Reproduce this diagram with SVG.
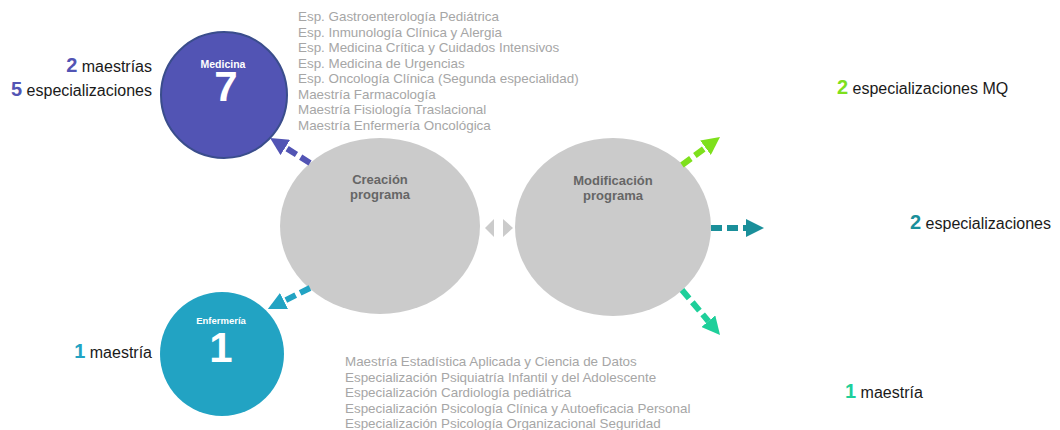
<svg xmlns="http://www.w3.org/2000/svg" width="1060" height="430" viewBox="0 0 1060 430">
<defs>
<style>
text{font-family:"Liberation Sans",Arial,sans-serif}
.lst{font-size:13.4px;fill:#a6a6a6}
.lbl{font-size:16px;fill:#1a1a1a}
.num{font-size:20px;font-weight:bold}
.ell{fill:#cbcbcb}
.etx{font-size:13px;font-weight:bold;fill:#666;text-anchor:middle}
.ctx{fill:#fff;font-weight:bold;text-anchor:middle}
.dash{fill:none;stroke-width:6;stroke-dasharray:11 5}
</style>
<marker id="mMed" viewBox="0 0 10 10" refX="0" refY="5" markerWidth="3" markerHeight="3" orient="auto" markerUnits="strokeWidth"><path d="M0,0 L10,5 L0,10 z" fill="#5254b4"/></marker>
<marker id="mEnf" viewBox="0 0 10 10" refX="0" refY="5" markerWidth="3" markerHeight="3" orient="auto" markerUnits="strokeWidth"><path d="M0,0 L10,5 L0,10 z" fill="#22a3c3"/></marker>
<marker id="mG" viewBox="0 0 10 10" refX="0" refY="5" markerWidth="3" markerHeight="3" orient="auto" markerUnits="strokeWidth"><path d="M0,0 L10,5 L0,10 z" fill="#7ee01c"/></marker>
<marker id="mT" viewBox="0 0 10 10" refX="0" refY="5" markerWidth="3" markerHeight="3" orient="auto" markerUnits="strokeWidth"><path d="M0,0 L10,5 L0,10 z" fill="#1a8f9a"/></marker>
<marker id="mS" viewBox="0 0 10 10" refX="0" refY="5" markerWidth="3" markerHeight="3" orient="auto" markerUnits="strokeWidth"><path d="M0,0 L10,5 L0,10 z" fill="#1ecf9a"/></marker>
</defs>
<rect width="1060" height="430" fill="#fff"/>

<g id="creacion">
<ellipse class="ell" cx="380" cy="226" rx="100" ry="88"/>
<text class="etx" x="380" y="184">Creación</text>
<text class="etx" x="380" y="199">programa</text>
</g>

<g id="modificacion">
<ellipse class="ell" cx="613" cy="227" rx="98" ry="89"/>
<text class="etx" x="613" y="185">Modificación</text>
<text class="etx" x="613" y="200">programa</text>
</g>

<g id="flechas-dobles">
<path d="M485,228 L494,219 L494,237 z" fill="#cbcbcb"/>
<path d="M513,228 L503,219 L503,237 z" fill="#cbcbcb"/>
</g>

<g id="connectors">
<path class="dash" d="M310,163 L285.3,147.5" stroke="#5254b4" marker-end="url(#mMed)"/>
<path class="dash" d="M310,288 L284,301" stroke="#22a3c3" marker-end="url(#mEnf)"/>
<path class="dash" d="M682,165 L705.5,147.7" stroke="#7ee01c" marker-end="url(#mG)"/>
<path class="dash" d="M711,228 L746,228" stroke="#1a8f9a" marker-end="url(#mT)"/>
<path class="dash" d="M682,290 L708.4,321.2" stroke="#1ecf9a" marker-end="url(#mS)"/>
</g>

<g id="medicina">
<circle cx="224" cy="95" r="63" fill="#5254b4" stroke="#3a4d8c" stroke-width="2"/>
<text class="ctx" x="226" y="101" font-size="42">7</text>
<text class="ctx" x="223" y="68" font-size="10.5">Medicina</text>
</g>

<g id="enfermeria">
<circle cx="222" cy="354" r="62" fill="#22a3c3"/>
<text class="ctx" x="221" y="362" font-size="42">1</text>
<text class="ctx" x="221" y="324" font-size="9.5">Enfermería</text>
</g>

<g id="lista-creacion">
<text class="lst" x="298" y="21">Esp. Gastroenterología Pediátrica</text>
<text class="lst" x="298" y="36.5">Esp. Inmunología Clínica y Alergia</text>
<text class="lst" x="298" y="52">Esp. Medicina Crítica y Cuidados Intensivos</text>
<text class="lst" x="298" y="67.5">Esp. Medicina de Urgencias</text>
<text class="lst" x="298" y="83">Esp. Oncología Clínica (Segunda especialidad)</text>
<text class="lst" x="298" y="98.5">Maestría Farmacología</text>
<text class="lst" x="298" y="114">Maestría Fisiología Traslacional</text>
<text class="lst" x="298" y="129.5">Maestría Enfermería Oncológica</text>
</g>

<g id="lista-modificacion">
<text class="lst" x="345" y="366">Maestría Estadística Aplicada y Ciencia de Datos</text>
<text class="lst" x="345" y="381.5">Especialización Psiquiatría Infantil y del Adolescente</text>
<text class="lst" x="345" y="397">Especialización Cardiología pediátrica</text>
<text class="lst" x="345" y="412.5">Especialización Psicología Clínica y Autoeficacia Personal</text>
<text class="lst" x="345" y="428">Especialización Psicología Organizacional Seguridad</text>
</g>

<g id="totales">
<text class="lbl" x="152" y="72" text-anchor="end"><tspan class="num" fill="#5254b4">2</tspan> maestrías</text>
<text class="lbl" x="152" y="96" text-anchor="end"><tspan class="num" fill="#5254b4">5</tspan> especializaciones</text>
<text class="lbl" x="152" y="358" text-anchor="end"><tspan class="num" fill="#22a3c3">1</tspan> maestría</text>
<text class="lbl" x="837" y="94"><tspan class="num" fill="#7ee01c">2</tspan> especializaciones MQ</text>
<text class="lbl" x="1051" y="229" text-anchor="end"><tspan class="num" fill="#1a8f9a">2</tspan> especializaciones</text>
<text class="lbl" x="845" y="398"><tspan class="num" fill="#1ecf9a">1</tspan> maestría</text>
</g>
</svg>
